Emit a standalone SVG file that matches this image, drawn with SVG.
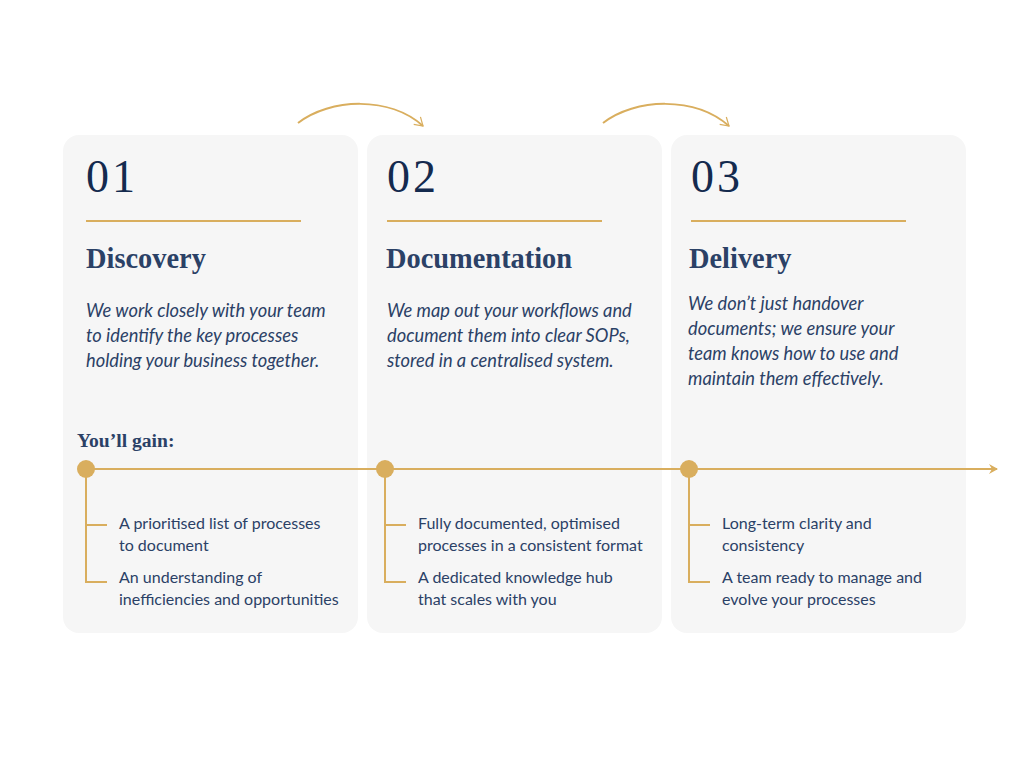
<svg xmlns="http://www.w3.org/2000/svg" width="1024" height="768" viewBox="0 0 1024 768">
<defs>
<style>
.card{fill:#f6f6f6}
.num{font-family:"Liberation Serif","DejaVu Serif",serif;font-size:46px;letter-spacing:3px;fill:#142a4e}
.head{font-family:"Liberation Serif","DejaVu Serif",serif;font-size:28.4px;font-weight:bold;fill:#2b4166}
.body{font-family:Lato,"Liberation Sans",sans-serif;font-style:italic;font-size:18.3px;fill:#2b4166}
.bul{font-family:Lato,"Liberation Sans",sans-serif;font-size:16px;fill:#2b4166}
.gain{font-family:"Liberation Serif","DejaVu Serif",serif;font-size:19.6px;font-weight:bold;fill:#2b4166}
.gold{stroke:#d9ae5e;stroke-width:2;fill:none}
.dot{fill:#d9ae5e}
</style>
<marker id="ah" markerWidth="10" markerHeight="10" refX="8" refY="5" orient="auto" markerUnits="userSpaceOnUse">
<path d="M0,0 L9,5 L0,10 L3,5 Z" fill="#d9ae5e"/>
</marker>
<marker id="ao" markerWidth="12" markerHeight="12" refX="9" refY="6" orient="auto" markerUnits="userSpaceOnUse">
<path d="M1,1 L9,6 L1,11" fill="none" stroke="#d9ae5e" stroke-width="1.2"/>
</marker>
</defs>
<rect width="1024" height="768" fill="#ffffff"/>

<g id="card1">
<rect class="card" x="63" y="135" width="295" height="498" rx="16"/>
<text class="num" x="86" y="192">01</text>
<line class="gold" x1="86" y1="221" x2="301" y2="221"/>
<text class="head" x="86" y="268">Discovery</text>
<text class="body"><tspan x="86" y="317">We work closely with your team</tspan><tspan x="86" y="342">to identify the key processes</tspan><tspan x="86" y="367">holding your business together.</tspan></text>
<text class="gain" x="77" y="447">You’ll gain:</text>
<text class="bul"><tspan x="119" y="529">A prioritised list of processes</tspan><tspan x="119" y="551">to document</tspan></text>
<text class="bul"><tspan x="119" y="583">An understanding of</tspan><tspan x="119" y="605">inefficiencies and opportunities</tspan></text>
</g>

<g id="card2">
<rect class="card" x="367" y="135" width="295" height="498" rx="16"/>
<text class="num" x="387" y="192">02</text>
<line class="gold" x1="387" y1="221" x2="602" y2="221"/>
<text class="head" x="386" y="268">Documentation</text>
<text class="body"><tspan x="387" y="317">We map out your workflows and</tspan><tspan x="387" y="342">document them into clear SOPs,</tspan><tspan x="387" y="367">stored in a centralised system.</tspan></text>
<text class="bul"><tspan x="418" y="529">Fully documented, optimised</tspan><tspan x="418" y="551">processes in a consistent format</tspan></text>
<text class="bul"><tspan x="418" y="583">A dedicated knowledge hub</tspan><tspan x="418" y="605">that scales with you</tspan></text>
</g>

<g id="card3">
<rect class="card" x="671" y="135" width="295" height="498" rx="16"/>
<text class="num" x="691" y="192">03</text>
<line class="gold" x1="691" y1="221" x2="906" y2="221"/>
<text class="head" x="689" y="268">Delivery</text>
<text class="body"><tspan x="688" y="310">We don’t just handover</tspan><tspan x="688" y="335">documents; we ensure your</tspan><tspan x="688" y="360">team knows how to use and</tspan><tspan x="688" y="385">maintain them effectively.</tspan></text>
<text class="bul"><tspan x="722" y="529">Long-term clarity and</tspan><tspan x="722" y="551">consistency</tspan></text>
<text class="bul"><tspan x="722" y="583">A team ready to manage and</tspan><tspan x="722" y="605">evolve your processes</tspan></text>
</g>

<g id="connectors">
<path class="gold" stroke-width="1.2" d="M298,123 C330,98 390,96 423,126" marker-end="url(#ao)"/>
<path class="gold" stroke-width="1.2" d="M603,123 C635,98 695,96 729,126" marker-end="url(#ao)"/>
<line class="gold" x1="86" y1="469" x2="997" y2="469" marker-end="url(#ah)"/>
<path class="gold" d="M86,469 V582 H107 M86,525 H107"/>
<path class="gold" d="M385,469 V582 H406 M385,525 H406"/>
<path class="gold" d="M689,469 V582 H710 M689,525 H710"/>
<circle class="dot" cx="86" cy="469" r="9"/>
<circle class="dot" cx="385" cy="469" r="9"/>
<circle class="dot" cx="689" cy="469" r="9"/>
</g>
</svg>
